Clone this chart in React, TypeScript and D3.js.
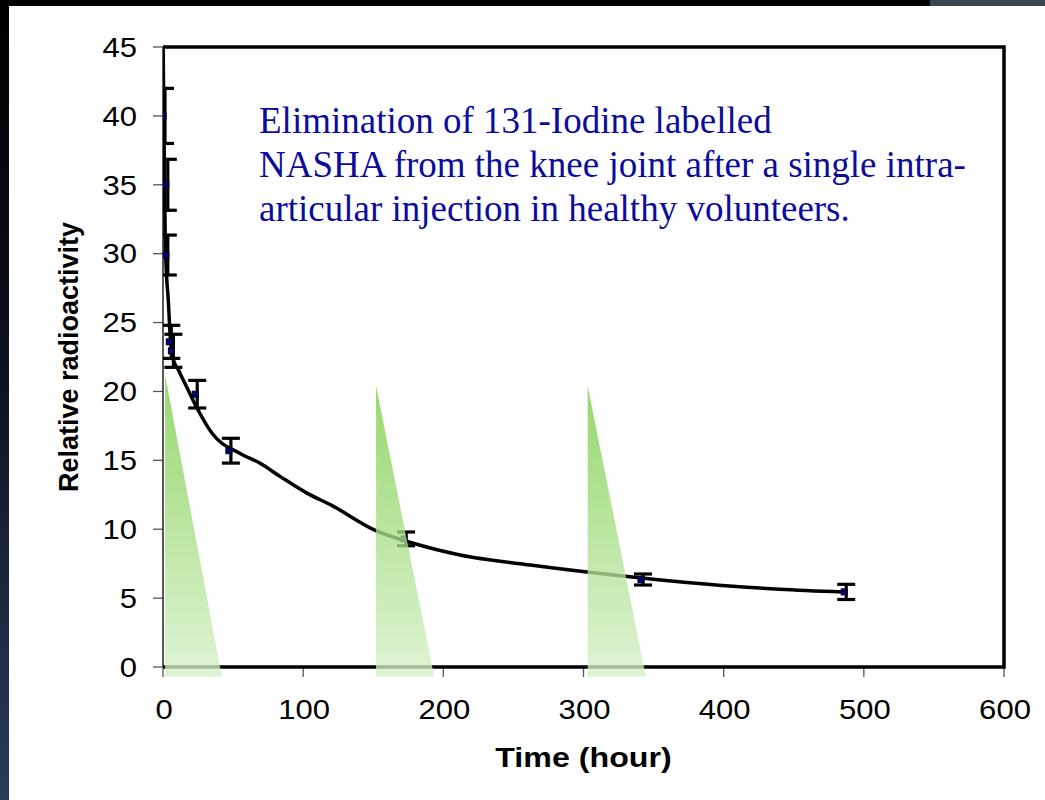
import * as d3 from "d3";

// axis ticks
const xTicks = [0, 100, 200, 300, 400, 500, 600];
const yTicks = [0, 5, 10, 15, 20, 25, 30, 35, 40, 45];

// measured points with error bars (hours, relative radioactivity, +/-)
const pointTime = [0, 2, 2, 4.5, 6, 23, 47, 172, 341, 486];
const pointValue = [40, 35, 29.9, 23.6, 22.95, 19.8, 15.7, 9.3, 6.35, 5.45];
const pointError = [2, 1.85, 1.45, 1.2, 1.2, 1.0, 0.9, 0.5, 0.4, 0.55];

// fitted elimination curve
const curveTime = [0, 0.8, 1.6, 2.6, 3.8, 5, 7.4, 11, 17, 25, 35, 55, 69, 84, 103, 120, 151, 178, 212, 262, 333, 404, 440, 485];
const curveValue = [46, 38, 31, 28.3, 26.6, 24.2, 22.3, 21.55, 20.3, 18.65, 16.96, 15.5, 14.8, 13.8, 12.6, 11.75, 9.94, 9.0, 8.13, 7.4, 6.55, 5.88, 5.64, 5.44];

// green wedges (injection markers)
const wedgeStart = [1.5, 152, 303];
const wedgeEnd = [42, 193.5, 344.5];
const wedgeTop = [21.2, 20.4, 20.4];
const wedgeBottom = -0.7;

const noteLines = [
  "Elimination of 131-Iodine labelled",
  "NASHA from the knee joint after a single intra-",
  "articular injection in healthy volunteers.",
];

const sans = "'Liberation Sans', Arial, Helvetica, sans-serif";
const serif = "'Liberation Serif', 'Times New Roman', serif";
const stretch = 1.15; // the slide text is a bit wider than plain Arial

export default function App() {
  const width = 1045;
  const height = 800;
  const marginLeft = 163;
  const marginRight = 1004;
  const marginTop = 47;
  const marginBottom = 667;

  const x = d3.scaleLinear().domain([0, 600]).range([marginLeft, marginRight]);
  const y = d3.scaleLinear().domain([0, 45]).range([marginBottom, marginTop]);

  const line = d3
    .line<number>()
    .x((_, i) => x(curveTime[i]))
    .y((d) => y(d))
    .curve(d3.curveMonotoneX);

  const capHalf = 9;

  return (
    <svg
      width={width}
      height={height}
      viewBox={`0 0 ${width} ${height}`}
      style={{ position: "absolute", left: 0, top: 0, display: "block" }}
    >
      <defs>
        <linearGradient id="bg" x1="0" y1="0" x2="0" y2="1">
          <stop offset="0" stopColor="#000000" />
          <stop offset="0.45" stopColor="#0b1020" />
          <stop offset="1" stopColor="#2b3b5a" />
        </linearGradient>
        <linearGradient id="wedge" x1="0" y1="0" x2="0" y2="1">
          <stop offset="0" stopColor="#78cd43" />
          <stop offset="1" stopColor="#d6f0c8" />
        </linearGradient>
        <clipPath id="plot">
          <rect x={x(0)} y={y(45)} width={x(600) - x(0)} height={y(0) - y(45)} />
        </clipPath>
      </defs>

      {/* slide background and white panel */}
      <rect x={0} y={0} width={width} height={height} fill="url(#bg)" />
      <rect x={930} y={0} width={115} height={6} fill="#3a4452" />
      <rect x={9} y={6} width={width - 9} height={height - 6} fill="#ffffff" />

      {/* y ticks */}
      <g>
        {yTicks.map((t) => (
          <g key={t}>
            <line x1={x(0) - 10} x2={x(0)} y1={y(t)} y2={y(t)} stroke="#555" strokeWidth={1.3} />
            <text
              transform={`translate(${x(0) - 26},${y(t)}) scale(${stretch},1)`}
              dy="0.36em"
              textAnchor="end"
              fontFamily={sans}
              fontSize={27}
              fill="#000"
            >
              {t}
            </text>
          </g>
        ))}
      </g>

      {/* x ticks */}
      <g>
        {xTicks.map((t) => (
          <g key={t}>
            <line x1={x(t)} x2={x(t)} y1={y(0)} y2={y(0) + 10} stroke="#555" strokeWidth={1.3} />
            <text
              transform={`translate(${x(t) + 1},${y(0) + 52}) scale(${stretch},1)`}
              textAnchor="middle"
              fontFamily={sans}
              fontSize={27}
              fill="#000"
            >
              {t}
            </text>
          </g>
        ))}
      </g>

      {/* plot frame */}
      <line x1={x(0)} x2={x(0)} y1={y(45)} y2={y(0)} stroke="#222" strokeWidth={1.5} />
      <path
        d={`M${x(0)},${y(45)}H${x(600)}V${y(0)}H${x(0)}`}
        fill="none"
        stroke="#000"
        strokeWidth={3.5}
      />

      <g clipPath="url(#plot)">
        {/* fitted curve */}
        <path d={line(curveValue) ?? ""} fill="none" stroke="#000" strokeWidth={3.5} />

        {/* error bars */}
        {pointTime.map((t, i) => {
          const cx = x(t) + 2;
          const hi = y(pointValue[i] + pointError[i]);
          const lo = y(pointValue[i] - pointError[i]);
          return (
            <g key={i} stroke="#000" strokeWidth={3.2}>
              <line x1={cx} x2={cx} y1={hi} y2={lo} />
              <line x1={cx - capHalf} x2={cx + capHalf} y1={hi} y2={hi} />
              <line x1={cx - capHalf} x2={cx + capHalf} y1={lo} y2={lo} />
            </g>
          );
        })}

        {/* markers */}
        {pointTime.map((t, i) => (
          <rect
            key={i}
            x={x(t) - 3}
            y={y(pointValue[i]) - 3}
            width={6}
            height={6}
            fill="#000080"
            stroke="#000"
            strokeWidth={1}
          />
        ))}
      </g>

      {/* green wedges */}
      {wedgeStart.map((s, i) => (
        <path
          key={i}
          d={`M${x(s)},${y(wedgeTop[i])}L${x(wedgeEnd[i])},${y(wedgeBottom)}L${x(s)},${y(wedgeBottom)}Z`}
          fill="url(#wedge)"
          fillOpacity={0.78}
        />
      ))}

      {/* annotation */}
      <g fontFamily={serif} fontSize={37} fill="#0c0c9c">
        {noteLines.map((s, i) => (
          <text key={i} x={259} y={133 + i * 44}>
            {s}
          </text>
        ))}
      </g>

      {/* axis titles */}
      <text
        transform={`translate(${(x(0) + x(600)) / 2},767) scale(${stretch},1)`}
        textAnchor="middle"
        fontFamily={sans}
        fontSize={28}
        fontWeight="bold"
        fill="#000"
      >
        Time (hour)
      </text>
      <text
        transform={`translate(78,${(y(0) + y(45)) / 2}) rotate(-90)`}
        textAnchor="middle"
        fontFamily={sans}
        fontSize={27}
        fontWeight="bold"
        fill="#000"
      >
        Relative radioactivity
      </text>
    </svg>
  );
}
